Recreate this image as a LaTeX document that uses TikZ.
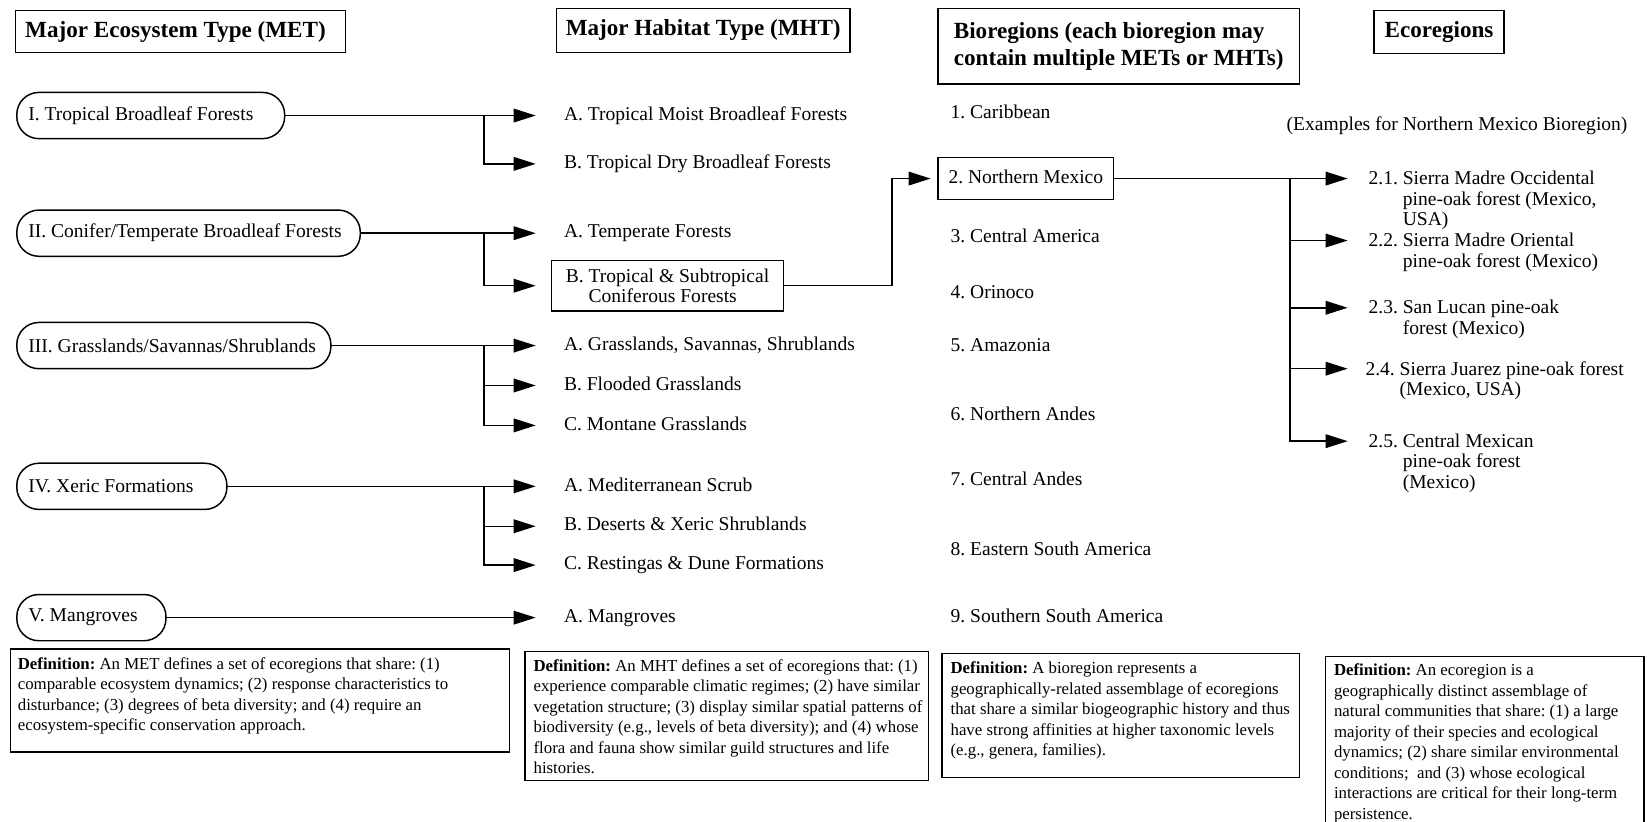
\documentclass[tikz,border=0pt]{standalone}
\usepackage{fontspec}
\setmainfont{Liberation Serif}
\usetikzlibrary{arrows.meta}
\frenchspacing
\begin{document}
\begin{tikzpicture}[x=1pt,y=-1pt,
  every node/.style={inner sep=0pt, outer sep=0pt},
  conn/.style={line width=1.4pt},
  arr/.style={conn, -{Triangle[length=21pt,width=13pt]}},
  txt/.style={font=\fontsize{18.6}{19.5}\selectfont},
  head/.style={draw, line width=1.4pt, font=\fontsize{22}{26}\selectfont\bfseries},
  ovalbox/.style={txt, draw, line width=1.4pt, rounded corners=21pt, minimum height=44pt, inner xsep=11pt, anchor=west},
  item/.style={txt, anchor=west, inner xsep=12pt, text height=13pt, text depth=4pt},
  itembox/.style={txt, anchor=west, draw, line width=1.4pt, align=left, minimum width=221pt, minimum height=48pt},
  bio/.style={txt, anchor=west, inner xsep=10pt, text height=13pt, text depth=4pt},
  biobox/.style={bio, draw, line width=1.4pt, minimum width=165pt, minimum height=40pt},
  eco/.style={txt, anchor=north west, align=left},
  defframe/.style={draw, line width=1.4pt, anchor=north west},
  deftext/.style={anchor=north west, align=left, font=\fontsize{16}{19.5}\selectfont}
]
\useasboundingbox (0,0) rectangle (1568,782);

% headings
\node[head, minimum width=314pt, minimum height=40pt] (hmet) at (172,30) {\makebox[296pt][l]{Major Ecosystem Type (MET)}};
\node[head, minimum width=279pt, minimum height=42pt] (hmht) at (669.5,29) {Major Habitat Type (MHT)};
\node[head, minimum width=344pt, minimum height=72pt, align=left] (hbio) at (1065,44) {Bioregions (each bioregion may\\contain multiple METs or MHTs)};
\node[head, minimum width=124pt, minimum height=41pt] (heco) at (1370,30.5) {Ecoregions};

% MET ovals
\node[ovalbox] (o1) at (16,110) {\makebox[233pt][l]{I. Tropical Broadleaf Forests}};
\node[ovalbox] (o2) at (16,222) {\makebox[305pt][l]{II. Conifer/Temperate Broadleaf Forests}};
\node[ovalbox] (o3) at (16,329) {\makebox[277pt][l]{III. Grasslands/Savannas/Shrublands}};
\node[ovalbox] (o4) at (16,463) {\makebox[178pt][l]{IV. Xeric Formations}};
\node[ovalbox] (o5) at (16,588) {\makebox[120pt][l]{V. Mangroves}};

% MHT items
\node[item] (mA1) at (525,110) {A. Tropical Moist Broadleaf Forests};
\node[item] (mB1) at (525,156) {B. Tropical Dry Broadleaf Forests};
\node[item] (mA2) at (525,222) {A. Temperate Forests};
\node[itembox] (mB2) at (525,272) {B. Tropical \& Subtropical\\\phantom{B.\ }Coniferous Forests};
\node[item] (mA3) at (525,329) {A. Grasslands, Savannas, Shrublands};
\node[item] (mB3) at (525,367) {B. Flooded Grasslands};
\node[item] (mC3) at (525,405) {C. Montane Grasslands};
\node[item] (mA4) at (525,463) {A. Mediterranean Scrub};
\node[item] (mB4) at (525,501) {B. Deserts \& Xeric Shrublands};
\node[item] (mC4) at (525,538) {C. Restingas \& Dune Formations};
\node[item] (mA5) at (525,588) {A. Mangroves};

% branch points
\coordinate (b1) at (461,110);
\coordinate (b2) at (461,222);
\coordinate (b3) at (461,329);
\coordinate (b4) at (461,463);

\draw[arr, shorten >=15pt] (o1.east) -- (mA1.west);
\draw[arr, shorten >=15pt] (b1) |- (mB1.west);
\draw[arr, shorten >=15pt] (o2.east) -- (mA2.west);
\draw[arr, shorten >=15pt] (b2) |- (mB2.west);
\draw[arr, shorten >=15pt] (o3.east) -- (mA3.west);
\draw[arr, shorten >=15pt] (b3) |- (mB3.west);
\draw[arr, shorten >=15pt] (b3) |- (mC3.west);
\draw[arr, shorten >=15pt] (o4.east) -- (mA4.west);
\draw[arr, shorten >=15pt] (b4) |- (mB4.west);
\draw[arr, shorten >=15pt] (b4) |- (mC4.west);
\draw[arr, shorten >=15pt] (o5.east) -- (mA5.west);

% Bioregions
\node[bio] (r1) at (895,108) {1. Caribbean};
\node[biobox] (nm) at (893,170) {2. Northern Mexico};
\node[bio] (r3) at (895,226) {3. Central America};
\node[bio] (r4) at (895,280) {4. Orinoco};
\node[bio] (r5) at (895,330) {5. Amazonia};
\node[bio] (r6) at (895,396) {6. Northern Andes};
\node[bio] (r7) at (895,458) {7. Central Andes};
\node[bio] (r8) at (895,524) {8. Eastern South America};
\node[bio] (r9) at (895,588) {9. Southern South America};

\draw[arr, shorten >=7pt] (mB2.east) -- ++(103,0) |- (nm.west);

% Ecoregions
\node[txt, anchor=west] (ex) at (1225,120) {(Examples for Northern Mexico Bioregion)};
\coordinate (eb) at (1228,170);
\coordinate (t1) at (1283,170);
\coordinate (t2) at (1283,229);
\coordinate (t3) at (1283,293);
\coordinate (t4) at (1283,351);
\coordinate (t5) at (1283,420);
\draw[arr] (nm.east) -- (t1);
\draw[arr] (eb) |- (t2);
\draw[arr] (eb) |- (t3);
\draw[arr] (eb) |- (t4);
\draw[arr] (eb) |- (t5);

\node[eco] (e1) at (1303,163) {2.1. Sierra Madre Occidental\\\phantom{2.1.\ }pine-oak forest (Mexico,\\\phantom{2.1.\ }USA)};
\node[eco] (e2) at (1303,222) {2.2. Sierra Madre Oriental\\\phantom{2.2.\ }pine-oak forest (Mexico)};
\node[eco] (e3) at (1303,286) {2.3. San Lucan pine-oak\\\phantom{2.3.\ }forest (Mexico)};
\node[eco] (e4) at (1300,344) {2.4. Sierra Juarez pine-oak forest\\\phantom{2.4.\ }(Mexico, USA)};
\node[eco] (e5) at (1303,413) {2.5. Central Mexican\\\phantom{2.5.\ }pine-oak forest\\\phantom{2.5.\ }(Mexico)};

% Definitions
\node[defframe, minimum width=475pt, minimum height=98pt] (dmet) at (10,618) {};
\node[deftext] (tmet) at (17,626) {\textbf{Definition:} An MET defines a set of ecoregions that share: (1)\\comparable ecosystem dynamics; (2) response characteristics to\\disturbance; (3) degrees of beta diversity; and (4) require an\\ecosystem-specific conservation approach.};

\node[defframe, minimum width=384pt, minimum height=123pt] (dmht) at (500,620) {};
\node[deftext] (tmht) at (508,628) {\textbf{Definition:} An MHT defines a set of ecoregions that: (1)\\experience comparable climatic regimes; (2) have similar\\vegetation structure; (3) display similar spatial patterns of\\biodiversity (e.g., levels of beta diversity); and (4) whose\\flora and fauna show similar guild structures and life\\histories.};

\node[defframe, minimum width=340pt, minimum height=118pt] (dbio) at (897,622) {};
\node[deftext] (tbio) at (905,630) {\textbf{Definition:} A bioregion represents a\\geographically-related assemblage of ecoregions\\that share a similar biogeographic history and thus\\have strong affinities at higher taxonomic levels\\(e.g., genera, families).};

\node[defframe, minimum width=303pt, minimum height=180pt] (deco) at (1262,625) {};
\node[deftext] (teco) at (1270,632) {\textbf{Definition:} An ecoregion is a\\geographically distinct assemblage of\\natural communities that share: (1) a large\\majority of their species and ecological\\dynamics; (2) share similar environmental\\conditions;\ \ and (3) whose ecological\\interactions are critical for their long-term\\persistence.};
\end{tikzpicture}
\end{document}
